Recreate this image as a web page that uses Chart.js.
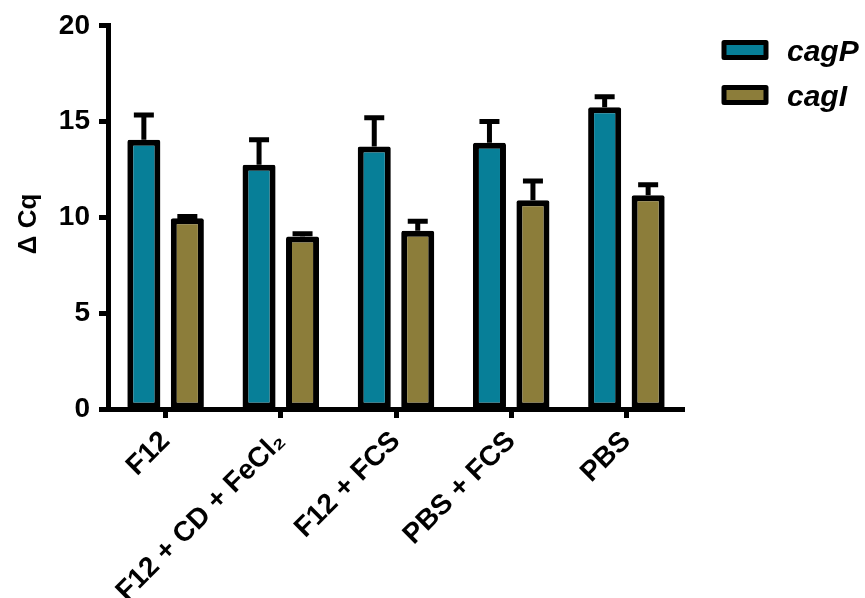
<!DOCTYPE html>
<html>
<head>
<meta charset="utf-8">
<script src="https://cdn.jsdelivr.net/npm/chart.js@4/dist/chart.umd.min.js"></script>
<style>
  html, body { margin: 0; padding: 0; background: #fff; }
  #wrap { width: 865px; height: 598px; }
</style>
</head>
<body>
<div id="wrap"><canvas id="cqChart" width="865" height="598"></canvas></div>
<script>
const conditions = ['F12', 'F12 + CD + FeCl₂', 'F12 + FCS', 'PBS + FCS', 'PBS'];
const cagP = [14.05, 12.75, 13.7, 13.9, 15.75];
const cagPErr = [1.3, 1.3, 1.5, 1.1, 0.55];
const cagI = [9.95, 9.0, 9.3, 10.9, 11.15];
const cagIErr = [0.1, 0.15, 0.5, 1.0, 0.55];
const yTicks = [0, 5, 10, 15, 20];

const FONT = '"Liberation Sans", Arial, sans-serif';

// 誤差線（只畫上方）
const errorBars = {
  id: 'errorBars',
  afterDatasetsDraw(chart) {
    const ctx = chart.ctx;
    const y = chart.scales.y;
    ctx.save();
    ctx.strokeStyle = '#000';
    ctx.lineWidth = 5;
    chart.data.datasets.forEach((ds, di) => {
      const meta = chart.getDatasetMeta(di);
      meta.data.forEach((bar, i) => {
        const top = y.getPixelForValue(ds.data[i] + ds.errors[i]);
        ctx.beginPath();
        ctx.moveTo(bar.x, bar.y);
        ctx.lineTo(bar.x, top);
        ctx.moveTo(bar.x - 10, top);
        ctx.lineTo(bar.x + 10, top);
        ctx.stroke();
      });
    });
    ctx.restore();
  }
};

// 右上角圖例
const sideLegend = {
  id: 'sideLegend',
  afterDraw(chart) {
    const ctx = chart.ctx;
    ctx.save();
    chart.data.datasets.forEach((ds, i) => {
      const top = 42.5 + i * 45;
      ctx.fillStyle = ds.backgroundColor;
      ctx.strokeStyle = '#000';
      ctx.lineWidth = 5;
      ctx.lineJoin = 'round';
      ctx.fillRect(724, top, 42, 15);
      ctx.strokeRect(724, top, 42, 15);
      ctx.fillStyle = '#000';
      ctx.font = 'italic bold 30px ' + FONT;
      ctx.textBaseline = 'middle';
      ctx.textAlign = 'left';
      ctx.fillText(ds.label, 787, top + 10);
    });
    ctx.restore();
  }
};

const ctx = document.getElementById('cqChart').getContext('2d');
new Chart(ctx, {
  type: 'bar',
  data: {
    labels: conditions,
    datasets: [
      { label: 'cagP', data: cagP, errors: cagPErr, backgroundColor: '#077f98' },
      { label: 'cagI', data: cagI, errors: cagIErr, backgroundColor: '#8c7d3a' }
    ]
  },
  options: {
    responsive: false,
    animation: false,
    devicePixelRatio: 1,
    layout: { padding: { top: 25, right: 181, left: 0, bottom: 0 } },
    datasets: {
      bar: {
        borderColor: '#000',
        borderWidth: 6,
        borderSkipped: false,
        borderRadius: 2,
        categoryPercentage: 0.755,
        barPercentage: 0.76
      }
    },
    plugins: {
      legend: { display: false },
      tooltip: { enabled: false }
    },
    scales: {
      x: {
        afterFit(scale) { scale.height = 189; },
        border: { display: true, color: '#000', width: 5 },
        grid: { display: true, drawOnChartArea: false, offset: false, color: '#000', tickLength: 9, tickWidth: 5 },
        ticks: {
          autoSkip: false, maxRotation: 45, minRotation: 45, padding: 7,
          color: '#000', font: { family: FONT, size: 28, weight: 'bold' }
        }
      },
      y: {
        min: 0, max: 20,
        afterFit(scale) { scale.width = 108; },
        afterBuildTicks(scale) { scale.ticks = yTicks.map(v => ({ value: v })); },
        border: { display: true, color: '#000', width: 5 },
        grid: { display: true, drawOnChartArea: false, color: '#000', tickLength: 9, tickWidth: 5 },
        ticks: {
          padding: 9, color: '#000',
          font: { family: FONT, size: 28, weight: 'bold' }
        },
        title: {
          display: true, text: 'Δ Cq\u2002', color: '#000',
          padding: { top: 13, bottom: 0 },
          font: { family: FONT, size: 26, weight: 'bold' }
        }
      }
    }
  },
  plugins: [errorBars, sideLegend]
});
</script>
</body>
</html>
